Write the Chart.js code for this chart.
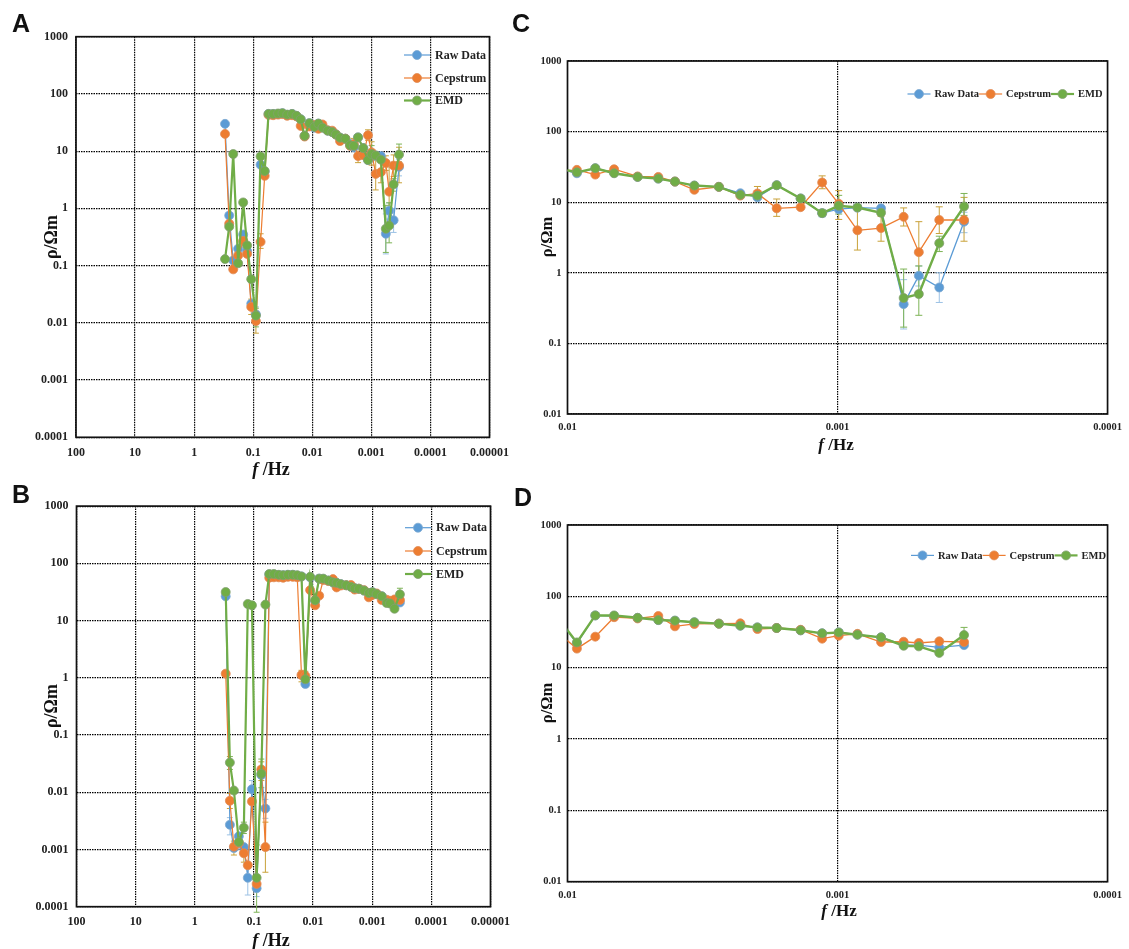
<!DOCTYPE html>
<html>
<head>
<meta charset="utf-8">
<script src="https://cdn.jsdelivr.net/npm/chart.js@4.4.1/dist/chart.umd.min.js"></script>
<style>
  body { margin: 0; background: #fff; width: 1129px; height: 949px; position: relative; overflow: hidden; }
  canvas { position: absolute; }
  .lbl { position: absolute; white-space: nowrap; line-height: 1; color: #111; }
  .panel { font-family: 'Liberation Sans', Arial, sans-serif; font-weight: bold; font-size: 25px; }
  .yt { font-family: 'Liberation Serif', serif; font-weight: bold; transform: translate(-50%, -50%) rotate(-90deg); }
  .xt { font-family: 'Liberation Serif', serif; font-weight: bold; transform: translate(-50%, -50%); }
</style>
</head>
<body>
<canvas id="chartA" width="530" height="480" style="left:0px;top:0px"></canvas>
<canvas id="chartB" width="530" height="479" style="left:0px;top:470px"></canvas>
<canvas id="chartC" width="629" height="470" style="left:500px;top:0px"></canvas>
<canvas id="chartD" width="629" height="479" style="left:500px;top:470px"></canvas>

<div class="lbl panel" style="left:12px;top:11px">A</div>
<div class="lbl panel" style="left:12px;top:482px">B</div>
<div class="lbl panel" style="left:512px;top:11px">C</div>
<div class="lbl panel" style="left:514px;top:485px">D</div>

<div class="lbl yt" style="left:51px;top:237px;font-size:18px">ρ/Ωm</div>
<div class="lbl yt" style="left:51px;top:706px;font-size:18px">ρ/Ωm</div>
<div class="lbl yt" style="left:547px;top:237px;font-size:16.5px">ρ/Ωm</div>
<div class="lbl yt" style="left:547px;top:703px;font-size:16.5px">ρ/Ωm</div>

<div class="lbl xt" style="left:271px;top:469px;font-size:18px"><i>f</i> /Hz</div>
<div class="lbl xt" style="left:271px;top:940px;font-size:18px"><i>f</i> /Hz</div>
<div class="lbl xt" style="left:836px;top:444px;font-size:17px"><i>f</i> /Hz</div>
<div class="lbl xt" style="left:839px;top:910px;font-size:17px"><i>f</i> /Hz</div>

<script>
// Sounding frequencies (Hz), shared by every series
const freqHz = [0.30, 0.255, 0.218, 0.18, 0.148, 0.127, 0.108, 0.09, 0.075, 0.064,
  0.055, 0.046, 0.038, 0.032, 0.0266, 0.022, 0.0185, 0.0157, 0.0135, 0.0112,
  0.00923, 0.00789, 0.00672, 0.0055, 0.00461, 0.004, 0.00339, 0.00275, 0.00229, 0.00198,
  0.00168, 0.00137, 0.00114, 0.00099, 0.000844, 0.00069, 0.000569, 0.0005, 0.00042, 0.00034];

const seriesNames = ['Raw Data', 'Cepstrum', 'EMD'];

// Station 1 apparent resistivity (Ω·m)
const rawA = [30, 0.75, 0.123, 0.197, 0.35, 0.18, 0.0216, 0.014, 5.8, 4.4,
  44.7, 44.7, 44.7, 46, 43, 44.7, 41.4, 36, 18.5, 30.8,
  25.7, 30.3, 26, 22.8, 21.6, 19.6, 17.2, 16.5, 13.4, 11.7,
  17.4, 11.3, 7.0, 7.96, 8.4, 8.2, 0.36, 0.91, 0.62, 5.3];
const cepA = [20, 0.54, 0.086, 0.15, 0.27, 0.16, 0.019, 0.0107, 0.26, 3.7,
  43, 42.5, 43.5, 44.5, 41.5, 42.5, 40.5, 27.6, 18, 27,
  28.7, 24.6, 29.3, 23.2, 22.8, 19.6, 15, 16.5, 12.4, 13.3,
  8.2, 8.5, 19, 9.5, 4.0, 4.3, 6.2, 1.96, 5.6, 5.6];
const emdA = [0.13, 0.48, 8.9, 0.11, 1.27, 0.225, 0.058, 0.0134, 8.1, 4.5,
  44.7, 44.7, 45.5, 46, 43.5, 44.7, 41.4, 36, 18.5, 30.8,
  26.5, 30.3, 25.7, 22.8, 21.6, 19.6, 17.2, 16.5, 12.7, 12.4,
  17.4, 11.3, 7.0, 8.9, 8.4, 7.1, 0.44, 0.5, 2.63, 8.7];

// Station 1 error bars: [frequency index, lower, upper]
const errRawA = [[7, 0.0095, 0.019], [32, 6.2, 7.8], [36, 0.16, 0.8], [37, 0.65, 1.25], [38, 0.38, 1.0], [39, 3.7, 7.2]];
const errCepA = [[6, 0.014, 0.026], [7, 0.0066, 0.016], [8, 0.2, 0.36], [29, 11.4, 16.7], [30, 6.3, 11.1],
  [32, 15.5, 23.6], [33, 5.7, 14.6], [34, 2.1, 8.1], [35, 2.8, 6.3], [36, 4.6, 8.3], [37, 1.0, 5.3], [38, 3.6, 8.6], [39, 2.8, 11.7]];
const errEmdA = [[7, 0.0085, 0.018], [32, 6.3, 7.9], [33, 6.8, 12.5], [36, 0.17, 1.13], [37, 0.25, 1.25], [38, 2.0, 3.3], [39, 6.5, 13.3]];

// Station 2 apparent resistivity (Ω·m)
const rawB = [26.5, 0.0027, 0.00106, 0.0017, 0.0011, 0.00032, 0.0113, 0.00021, 0.02, 0.0052,
  64, 64, 62, 62, 63, 63, 61, 59, 0.78, 57,
  22, 54, 53, 50, 46.5, 45.6, 43.3, 41.4, 38.8, 36.7,
  36, 33.4, 30.3, 31.2, 29, 26.6, 20.9, 20.7, 19.3, 20.7];
const cepB = [1.18, 0.0071, 0.00112, 0.0013, 0.00086, 0.00053, 0.0069, 0.00025, 0.025, 0.0011,
  56, 57, 57, 56, 58, 58, 57, 1.12, 1.08, 34,
  18.5, 27.2, 51, 49, 53, 38, 41, 41.4, 41.8, 34.8,
  36, 34, 25.5, 28.1, 29.8, 22.9, 23.1, 22.2, 23.4, 22.9];
const emdB = [31.5, 0.033, 0.0107, 0.00135, 0.0024, 19.5, 18.5, 0.00032, 0.021, 19,
  65, 65, 63, 62, 63, 63, 62, 59, 0.94, 58,
  22.6, 54, 54, 50, 46.5, 45.6, 43.3, 41.4, 38.8, 36.7,
  36, 33.4, 30.3, 31.2, 29, 26.6, 20.3, 19.9, 16.1, 28.7];

// Station 2 error bars: [frequency index, lower, upper]
const errRawB = [[1, 0.0018, 0.0036], [5, 0.00016, 0.0005], [6, 0.008, 0.016], [7, 0.00015, 0.0003], [9, 0.0035, 0.0075], [18, 0.7, 0.88]];
const errCepB = [[1, 0.0052, 0.0095], [2, 0.0008, 0.0014], [4, 0.0006, 0.0012], [8, 0.016, 0.034], [9, 0.0004, 0.003], [17, 0.85, 1.35], [18, 0.85, 1.3]];
const errEmdB = [[1, 0.025, 0.042], [4, 0.0019, 0.003], [7, 0.00008, 0.0012], [8, 0.012, 0.038], [18, 0.82, 1.08], [39, 24, 36.7]];

// Axis ticks
const yTicksFull = [1000, 100, 10, 1, 0.1, 0.01, 0.001, 0.0001];
const yLabelsFull = ['1000', '100', '10', '1', '0.1', '0.01', '0.001', '0.0001'];
const xTicksFull = [100, 10, 1, 0.1, 0.01, 0.001, 0.0001, 0.00001];
const xLabelsFull = ['100', '10', '1', '0.1', '0.01', '0.001', '0.0001', '0.00001'];
const yTicksZoom = [1000, 100, 10, 1, 0.1, 0.01];
const yLabelsZoom = ['1000', '100', '10', '1', '0.1', '0.01'];
const xTicksZoom = [0.01, 0.001, 0.0001];
const xLabelsZoom = ['0.01', '0.001', '0.0001'];

const colors = ['#5B9BD5', '#ED7D31', '#70AD47'];
const markerEdges = ['#7FA9D0', '#E08A55', '#83A070'];
const errColors = ['#9CC2E5', '#C9A23A', '#7DB356'];
const lineWidths = [1.2, 1.2, 2.2];
const SERIF = '"Liberation Serif", "Times New Roman", serif';

function drawMarker(ctx, x, y, r, s) {
  ctx.beginPath();
  ctx.arc(x, y, r, 0, Math.PI * 2);
  ctx.fillStyle = colors[s];
  ctx.fill();
  ctx.lineWidth = 0.8;
  ctx.strokeStyle = markerEdges[s];
  ctx.stroke();
}

function buildChart(id, o) {
  const cv = document.getElementById(id);
  const W = cv.width, H = cv.height, A = o.area;
  const values = [o.raw, o.cep, o.emd];
  const errs = [o.errRaw, o.errCep, o.errEmd];

  const framePlugin = {
    id: 'frame',
    beforeDatasetsDraw(chart) {
      const c = chart.ctx, ca = chart.chartArea;
      c.save();
      c.strokeStyle = '#111';
      c.lineWidth = 1.7;
      c.strokeRect(ca.left, ca.top, ca.right - ca.left, ca.bottom - ca.top);
      c.restore();
    }
  };

  const errPlugin = {
    id: 'errbars',
    beforeDatasetsDraw(chart) {
      const c = chart.ctx, ca = chart.chartArea;
      const xs = chart.scales.x, ys = chart.scales.y;
      c.save();
      c.beginPath();
      c.rect(ca.left - 1, ca.top - 10, ca.right - ca.left + 2, ca.bottom - ca.top + 20);
      c.clip();
      c.lineWidth = 1;
      errs.forEach((list, s) => {
        c.strokeStyle = errColors[s];
        list.forEach(([i, lo, hi]) => {
          const x = xs.getPixelForValue(freqHz[i]);
          if (x < ca.left - 1 || x > ca.right + 1) return;
          const y1 = ys.getPixelForValue(lo), y2 = ys.getPixelForValue(hi);
          c.beginPath();
          c.moveTo(x, y1); c.lineTo(x, y2);
          c.moveTo(x - o.cap, y1); c.lineTo(x + o.cap, y1);
          c.moveTo(x - o.cap, y2); c.lineTo(x + o.cap, y2);
          c.stroke();
        });
      });
      c.restore();
    }
  };

  const legendPlugin = {
    id: 'legendBox',
    afterDraw(chart) {
      const c = chart.ctx, L = o.legend;
      c.save();
      c.font = 'bold ' + L.size + 'px ' + SERIF;
      c.textBaseline = 'middle';
      c.textAlign = 'left';
      let x = L.x;
      seriesNames.forEach((name, s) => {
        const y = L.vertical ? L.ys[s] : L.y;
        const x0 = L.vertical ? L.x : x;
        c.strokeStyle = colors[s];
        c.lineWidth = lineWidths[s];
        c.beginPath(); c.moveTo(x0, y); c.lineTo(x0 + L.len, y); c.stroke();
        drawMarker(c, x0 + L.len / 2, y, o.pr, s);
        c.fillStyle = '#222';
        c.fillText(name, x0 + L.len + L.gap, y + 0.5);
        if (!L.vertical) x = x0 + L.len + L.gap + c.measureText(name).width;
      });
      c.restore();
    }
  };

  const tickFont = { family: SERIF, weight: 'bold', size: o.fs };

  return new Chart(cv, {
    type: 'line',
    data: {
      datasets: seriesNames.map((name, s) => ({
        label: name,
        data: freqHz.map((f, i) => ({ x: f, y: values[s][i] })),
        borderColor: colors[s],
        backgroundColor: colors[s],
        pointBackgroundColor: colors[s],
        pointBorderColor: markerEdges[s],
        pointBorderWidth: 0.8,
        pointRadius: o.pr,
        borderWidth: lineWidths[s] * o.lwScale,
        tension: 0,
        order: 2 - s
      }))
    },
    options: {
      responsive: false,
      animation: false,
      devicePixelRatio: 1,
      events: [],
      layout: { padding: { left: 0, top: A.t, right: W - A.r, bottom: 0 } },
      plugins: { legend: { display: false }, tooltip: { enabled: false } },
      scales: {
        x: {
          type: 'logarithmic', reverse: true, min: o.xMin, max: o.xMax,
          afterBuildTicks: sc => { sc.ticks = o.xTicks.map(v => ({ value: v })); },
          afterFit: sc => { sc.height = H - A.b; },
          ticks: { autoSkip: false, maxRotation: 0, minRotation: 0, padding: o.xPad, color: '#222', font: tickFont,
                   callback: v => o.xLabels[o.xTicks.indexOf(v)] },
          grid: { drawTicks: false, lineWidth: 1.2, color: o.xGrid },
          border: { display: false, dash: [1.5, 1] }
        },
        y: {
          type: 'logarithmic', min: o.yMin, max: o.yMax,
          afterBuildTicks: sc => { sc.ticks = o.yTicks.map(v => ({ value: v })); },
          afterFit: sc => { sc.width = A.l; },
          ticks: { autoSkip: false, padding: o.yPad, color: '#222', font: tickFont,
                   callback: v => o.yLabels[o.yTicks.indexOf(v)] },
          grid: { drawTicks: false, lineWidth: 1.2, color: '#000' },
          border: { display: false, dash: [1.5, 1] }
        }
      }
    },
    plugins: [framePlugin, errPlugin, legendPlugin]
  });
}

const fullAxes = {
  xMin: 0.00001, xMax: 100, yMin: 0.0001, yMax: 1000,
  xTicks: xTicksFull, xLabels: xLabelsFull, yTicks: yTicksFull, yLabels: yLabelsFull,
  xGrid: '#000', fs: 12, xPad: 8, yPad: 8, pr: 4.5, cap: 3, lwScale: 1
};
const zoomAxes = {
  xMin: 0.0001, xMax: 0.01, yMin: 0.01, yMax: 1000,
  xTicks: xTicksZoom, xLabels: xLabelsZoom, yTicks: yTicksZoom, yLabels: yLabelsZoom,
  xGrid: c => (c.tick && c.tick.value === 0.001) ? '#000' : 'rgba(0,0,0,0)',
  fs: 10.5, xPad: 7, yPad: 6, pr: 4.5, cap: 3.5, lwScale: 1.1
};

buildChart('chartA', Object.assign({}, fullAxes, {
  area: { l: 76, t: 36.7, r: 489.5, b: 437.3 },
  raw: rawA, cep: cepA, emd: emdA, errRaw: errRawA, errCep: errCepA, errEmd: errEmdA,
  legend: { vertical: true, x: 404, ys: [55, 78, 100.5], len: 26, gap: 5, size: 12 }
}));
buildChart('chartB', Object.assign({}, fullAxes, {
  area: { l: 76.5, t: 36.1, r: 490.5, b: 436.7 },
  raw: rawB, cep: cepB, emd: emdB, errRaw: errRawB, errCep: errCepB, errEmd: errEmdB,
  legend: { vertical: true, x: 405, ys: [57.7, 81, 104], len: 26, gap: 5, size: 12 }
}));
buildChart('chartC', Object.assign({}, zoomAxes, {
  area: { l: 67.5, t: 61, r: 611, b: 414 },
  raw: rawA, cep: cepA, emd: emdA, errRaw: errRawA, errCep: errCepA, errEmd: errEmdA,
  legend: { vertical: false, x: 407.5, y: 94, len: 23, gap: 4, size: 10.5 }
}));
buildChart('chartD', Object.assign({}, zoomAxes, {
  area: { l: 67.5, t: 55, r: 611, b: 411.7 },
  raw: rawB, cep: cepB, emd: emdB, errRaw: errRawB, errCep: errCepB, errEmd: errEmdB,
  legend: { vertical: false, x: 411, y: 85.4, len: 23, gap: 4, size: 10.5 }
}));
</script>
</body>
</html>
